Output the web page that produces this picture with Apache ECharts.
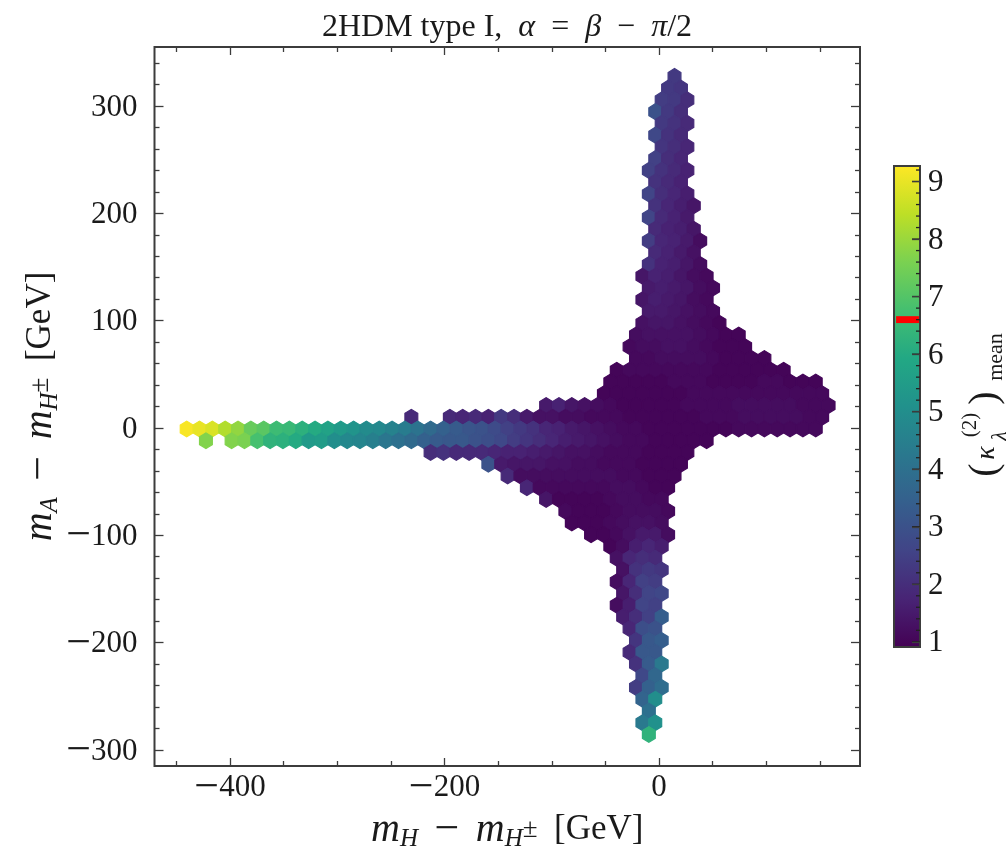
<!DOCTYPE html>
<html><head><meta charset="utf-8">
<style>html,body{margin:0;padding:0;background:#fff}#c{width:1006px;height:856px}#c canvas{filter:blur(0.45px)}</style>
<script src="https://cdn.jsdelivr.net/npm/echarts@6/dist/echarts.min.js"></script>
</head><body><div id="c"></div>
<script>
// Hex grid (GeV)
const xFirst = -440.4, xStep = 11.97, yFirst = -0.9, yStep = 10.95;
const row30=[2.3];
const row29=[2.3,2.2];
const row28=[2.4,2.3,2.0];
const row27=[3.0,2.3,2.0];
const row26=[2.3,2.1,1.9];
const row25=[2.7,2.1,1.9];
const row24=[2.2,2.0,1.8];
const row23=[2.5,2.0,1.8];
const row22=[2.5,2.1,1.9,1.7];
const row21=[2.1,1.9,1.7];
const row20=[2.6,2.0,1.8,1.6];
const row19=[2.1,1.8,1.6,1.4];
const row18=[2.6,1.9,1.7,1.5];
const row17=[1.9,1.7,1.6,1.4];
const row16=[2.4,1.8,1.7,1.5,1.2];
const row15=[1.9,1.7,1.5,1.3];
const row14=[2.1,1.7,1.6,1.4,1.2];
const row13=[1.4,1.7,1.6,1.4,1.2,1.1];
const row12=[1.5,1.6,1.5,1.4,1.2,1.1];
const row11=[1.4,1.6,1.5,1.4,1.2,1.1];
const row10=[1.5,1.5,1.4,1.3,1.2,1.1];
const row9=[1.3,1.4,1.4,1.3,1.2,1.1,1.0];
const row8=[1.2,1.3,1.3,1.3,1.3,1.2,1.1,1.0,1.0];
const row7=[1.1,1.2,1.2,1.3,1.3,1.2,1.1,1.0,1.0,1.0];
const row6=[1.1,1.1,1.2,1.2,1.2,1.2,1.1,1.0,1.0,1.0,1.0];
const row5=[1.0,1.1,1.1,1.1,1.1,1.1,1.1,1.1,1.0,1.0,1.0,1.0,1.0,1.0];
const row4=[1.0,1.0,1.0,1.0,1.0,1.1,1.1,1.1,1.0,1.0,1.0,1.0,1.1,1.1,1.0,1.0,1.0];
const row3=[1.0,1.0,1.0,1.0,1.0,1.0,1.0,1.1,1.1,1.1,1.1,1.1,1.1,1.1,1.1,1.1,1.1,1.1];
const row2=[1.5,1.7,1.4,1.3,1.2,1.1,1.0,1.0,1.0,1.0,1.0,1.1,1.1,1.1,1.1,1.2,1.2,1.2,1.2,1.2,1.1,1.1,1.1];
const row1a=[1.9];
const row1b=[1.9,1.8,1.9,1.7,2.3,2.0,1.5,1.3,1.3,1.2,1.2,1.1,1.1,1.1,1.0,1.0,1.0,1.0,1.0,1.0,1.1,1.1,1.1,1.2,1.2,1.2,1.2,1.2,1.1,1.1];
const row0=[9.2,9.0,8.8,8.3,7.9,7.3,7.1,6.6,6.5,6.2,6.0,5.7,5.4,5.2,4.9,4.8,4.6,4.4,4.1,3.8,3.5,3.3,3.1,3.0,2.8,2.5,2.3,2.1,1.8,1.7,1.5,1.4,1.3,1.2,1.1,1.1,1.0,1.0,1.0,1.0,1.0,1.0,1.0,1.1,1.1,1.1,1.1,1.1,1.1,1.1];
const rowM1a=[7.7];
const rowM1b=[7.7,7.6,6.8,6.3,6.2,6.0,5.4,5.5,5.0,4.8,4.7,4.5,4.2,4.0,3.8,3.5,3.3,3.2,3.2,3.0,2.9,2.7,2.4,2.2,2.0,1.8,1.6,1.5,1.4,1.3,1.2,1.1,1.1,1.0,1.0,1.0,1.0,1.0];
const rowM2=[2.0,2.1,1.9,1.9,1.9,1.8,1.7,1.7,1.6,1.5,1.4,1.3,1.3,1.2,1.1,1.1,1.1,1.0,1.0,1.0,1.0];
const rowM3=[3.0,1.5,1.4,1.4,1.4,1.3,1.3,1.2,1.2,1.1,1.1,1.1,1.0,1.0,1.0,1.0];
const rowM4=[1.9,1.2,1.2,1.2,1.2,1.2,1.2,1.2,1.2,1.1,1.1,1.0,1.0,1.0];
const rowM5=[1.8,1.1,1.1,1.1,1.1,1.1,1.1,1.2,1.2,1.1,1.0,1.0];
const rowM6=[1.4,1.0,1.0,1.0,1.0,1.1,1.2,1.2,1.1,1.1];
const rowM7=[1.1,1.0,1.0,1.0,1.1,1.2,1.2,1.2,1.1];
const rowM8=[1.0,1.0,1.0,1.1,1.2,1.3,1.3,1.2];
const rowM9=[1.0,1.0,1.1,1.3,1.5,1.5,1.2];
const rowM10=[1.0,1.2,1.6,1.8,1.6];
const rowM11=[1.3,1.8,2.0,1.9];
const rowM12=[1.3,2.1,2.3,2.2];
const rowM13=[1.2,1.8,2.5,2.4];
const rowM14=[1.4,2.0,2.6,2.7];
const rowM15=[1.2,1.6,2.6,2.5];
const rowM16=[1.6,2.0,2.5,3.4];
const rowM17=[1.8,2.9,3.0];
const rowM18=[2.2,3.2,3.4];
const rowM19=[1.9,3.2,3.2];
const rowM20=[2.1,3.3,4.3];
const rowM21=[2.7,3.7];
const rowM22=[2.4,3.5,3.9];
const rowM23=[3.6,5.0];
const rowM24=[4.0];
const rowM25=[4.3,5.1];
const rowM26=[6.3];
const rowNumbers=[30,29,28,27,26,25,24,23,22,21,20,19,18,17,16,15,14,13,12,11,10,9,8,7,6,5,4,3,2,1,1,0,-1,-1,-2,-3,-4,-5,-6,-7,-8,-9,-10,-11,-12,-13,-14,-15,-16,-17,-18,-19,-20,-21,-22,-23,-24,-25,-26];
const rowFirstCol=[38,37.5,37,36.5,37,36.5,37,36.5,36,36.5,36,36.5,36,36.5,36,36.5,36,35.5,36,35.5,36,35.5,35,34.5,35,33.5,33,32.5,28,17.5,20.5,0,1.5,3.5,19,23.5,25,26.5,28,29.5,30,31.5,33,33.5,34,33.5,34,33.5,34,34.5,35,34.5,35,35.5,35,35.5,36,35.5,36];
const rowValues=[row30,row29,row28,row27,row26,row25,row24,row23,row22,row21,row20,row19,row18,row17,row16,row15,row14,row13,row12,row11,row10,row9,row8,row7,row6,row5,row4,row3,row2,row1a,row1b,row0,rowM1a,rowM1b,rowM2,rowM3,rowM4,rowM5,rowM6,rowM7,rowM8,rowM9,rowM10,rowM11,rowM12,rowM13,rowM14,rowM15,rowM16,rowM17,rowM18,rowM19,rowM20,rowM21,rowM22,rowM23,rowM24,rowM25,rowM26];
const xMajor=[-400,-200,0];
const xMinor=[-450,-350,-300,-250,-150,-100,-50,50,100,150];
const yMajor=[-300,-200,-100,0,100,200,300];
const yMinor=[-280,-260,-240,-220,-180,-160,-140,-120,-80,-60,-40,-20,20,40,60,80,120,140,160,180,220,240,260,280,320,340];
const cbMajor=[1,2,3,4,5,6,7,8,9];
const cbMinor=[1.2,1.4,1.6,1.8,2.2,2.4,2.6,2.8,3.2,3.4,3.6,3.8,4.2,4.4,4.6,4.8,5.2,5.4,5.6,5.8,6.2,6.4,6.6,6.8,7.2,7.4,7.6,7.8,8.2,8.4,8.6,8.8,9.2];
const cbMin=0.91, cbMax=9.27, thresholdValue=6.6;
const viridis=['#440154','#482475','#414487','#355f8d','#2a788e','#21918c','#22a884','#44bf70','#7ad151','#bddf26','#fde725'];

const hexData=[];
rowValues.forEach((vals,i)=>vals.forEach((v,j)=>hexData.push([xFirst+(rowFirstCol[i]+j)*xStep, yFirst+rowNumbers[i]*yStep, v])));

const serif='"Liberation Serif"';
const INK='#1a1a1a', FRAME='#3c3c3c';
const tickFmt=v=>v<0?'{b|\u2212}{d|'+Math.abs(v)+'}':'{d|'+v+'}';
const tickRich={b:{fontFamily:serif,fontSize:44,color:INK,verticalAlign:'middle',lineHeight:30},
                d:{fontFamily:serif,fontSize:31,color:INK,verticalAlign:'middle',lineHeight:30}};
const nameRich={
  m:{fontFamily:serif,fontStyle:'italic',fontSize:40,color:INK,verticalAlign:'middle'},
  t:{fontFamily:serif,fontSize:35,color:INK,verticalAlign:'middle'},
  g:{fontFamily:serif,fontSize:33,color:INK,verticalAlign:'middle'},
  b:{fontFamily:serif,fontSize:44,color:INK,verticalAlign:'middle'},
  s:{fontFamily:serif,fontStyle:'italic',fontSize:25,color:INK,verticalAlign:'bottom',lineHeight:25},
  p:{fontFamily:serif,fontSize:27,color:INK,verticalAlign:'middle',lineHeight:27}
};
const xn='{m|m}{s|H}{g|  }{b|\u2212}{g|  }{m|m}{s|H}{p|\u00b1}{g|  }{t|[GeV]}';
const yn='{m|m}{s|A}{g|  }{b|\u2212}{g|  }{m|m}{s|H}{p|\u00b1}{g|  }{t|[GeV]}';

function tickAxis(pos,min,max,vals,len,grid,margin,extra){
  return Object.assign({type:'value',gridIndex:grid,position:pos,min:min,max:max,scale:true,z:6,
    splitLine:{show:false},axisLine:{show:false,onZero:false},
    axisTick:{show:true,inside:true,length:len,customValues:vals,lineStyle:{color:FRAME,width:1.3}},
    axisLabel:margin!=null?{show:true,customValues:vals,formatter:tickFmt,rich:tickRich,margin:margin,padding:[3,0,0,0]}:{show:false}
  },extra||{});
}
const X0=-470.4,X1=187.4,Y0=-315,Y1=355;

const option={
  animation:false,backgroundColor:'#fff',
  title:{left:502,top:7,textAlign:'center',
    text:'{n|2HDM type I,  }{i|\u03b1}{n|  =  }{i|\u03b2}{n|  \u2212  }{i|\u03c0}{n|/2}',
    textStyle:{fontWeight:'normal',rich:{n:{fontFamily:serif,fontWeight:'normal',fontSize:32,color:INK},i:{fontFamily:serif,fontWeight:'normal',fontStyle:'italic',fontSize:32,color:INK}}}},
  grid:[
    {left:154.5,top:47,width:705.5,height:719,show:true,outerBoundsMode:'none',borderColor:FRAME,borderWidth:2,backgroundColor:'#fff'},
    {left:894,top:166,width:26,height:481,show:true,outerBoundsMode:'none',borderColor:FRAME,borderWidth:2,backgroundColor:'transparent'}
  ],
  xAxis:[
    tickAxis('bottom',X0,X1,xMajor,8,0,4,{name:xn,nameLocation:'middle',nameGap:42,nameMoveOverlap:false,nameTextStyle:{rich:nameRich}}),
    tickAxis('bottom',X0,X1,xMinor,5,0,null),
    tickAxis('top',X0,X1,xMajor,8,0,null),
    tickAxis('top',X0,X1,xMinor,5,0,null),
    {type:'value',gridIndex:1,min:0,max:1,show:false}
  ],
  yAxis:[
    tickAxis('left',Y0,Y1,yMajor,9,0,17,{name:yn,nameLocation:'middle',nameGap:92,nameRotate:90,nameMoveOverlap:false,nameTextStyle:{rich:nameRich}}),
    tickAxis('left',Y0,Y1,yMinor,5,0,null),
    tickAxis('right',Y0,Y1,yMajor,9,0,null),
    tickAxis('right',Y0,Y1,yMinor,5,0,null),
    tickAxis('right',cbMin,cbMax,cbMajor,8,1,8)
  ],
  visualMap:{show:false,seriesIndex:0,dimension:2,min:cbMin,max:cbMax,inRange:{color:viridis}},
  series:[
    {type:'custom',name:'kappa mean',xAxisIndex:0,yAxisIndex:0,coordinateSystem:'cartesian2d',clip:true,
     encode:{x:0,y:1},data:hexData,
     renderItem:(p,api)=>{
       const x=api.value(0),y=api.value(1);
       const off=[[.5,-1/3],[.5,1/3],[0,2/3],[-.5,1/3],[-.5,-1/3],[0,-2/3]];
       const pts=off.map(o=>api.coord([x+o[0]*xStep,y+o[1]*yStep]));
       const c=api.visual('color');
       return {type:'polygon',shape:{points:pts},style:{fill:c,stroke:c,lineWidth:1.2}};
     }},
    {type:'custom',name:'colorbar',xAxisIndex:4,yAxisIndex:4,coordinateSystem:'cartesian2d',silent:true,
     data:[[0,cbMin,cbMax]],z:-1,
     renderItem:(p,api)=>{
       const a=api.coord([0,cbMax]),b=api.coord([1,cbMin]);
       return {type:'rect',shape:{x:a[0],y:a[1],width:b[0]-a[0],height:b[1]-a[1]},
         style:{fill:new echarts.graphic.LinearGradient(0,1,0,0,viridis.map((c,i)=>({offset:i/(viridis.length-1),color:c})))}};
     }},
    {type:'custom',name:'threshold',xAxisIndex:4,yAxisIndex:4,coordinateSystem:'cartesian2d',silent:true,
     data:[[thresholdValue]],z:3,
     renderItem:(p,api)=>{
       const v=api.value(0);
       const a=api.coord([0.08,v+0.06]),b=api.coord([0.96,v-0.06]);
       return {type:'rect',shape:{x:a[0],y:a[1],width:b[0]-a[0],height:b[1]-a[1]},style:{fill:'#ff0000'}};
     }},
    {type:'custom',name:'colorbar ticks',xAxisIndex:4,yAxisIndex:4,coordinateSystem:'cartesian2d',silent:true,z:4,
     data:cbMajor.map(v=>[1,v,8]).concat(cbMinor.map(v=>[1,v,4])),encode:{x:0,y:1},
     renderItem:(p,api)=>{
       const a=api.coord([api.value(0),api.value(1)]);
       return {type:'line',shape:{x1:a[0]-api.value(2),y1:a[1],x2:a[0],y2:a[1]},style:{stroke:'#222',lineWidth:1.3}};
     }}
  ],
  graphic:[
    ['(',985,470,40,'normal'],['\u03ba',987,453,28,'italic'],['(2)',970,425,21,'normal'],
    ['\u03bb',1000,436,21,'italic'],[')',985,398,40,'normal'],['mean',996,357,22,'normal']
  ].map(t=>({type:'text',x:t[1],y:t[2],rotation:Math.PI/2,silent:true,
    style:{text:t[0],fontFamily:serif,fontSize:t[3],fontStyle:t[4],fill:INK,textAlign:'center',textVerticalAlign:'middle'}}))
};
echarts.init(document.getElementById('c')).setOption(option);
</script></body></html>
